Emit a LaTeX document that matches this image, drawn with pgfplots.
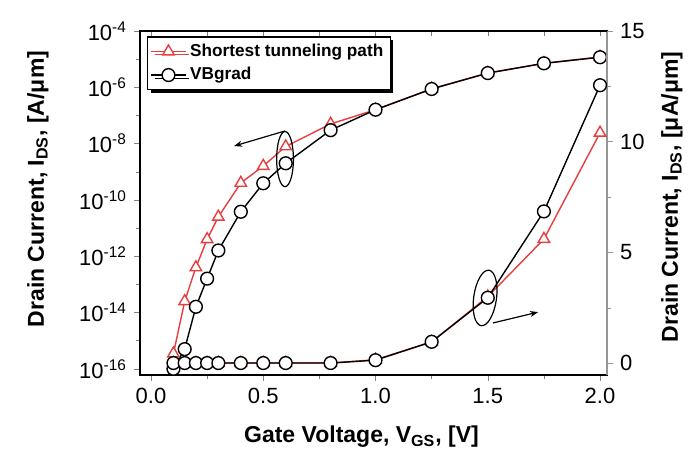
\documentclass[border=0pt]{standalone}
\usepackage{fontspec}
\setmainfont{Liberation Sans}
\usepackage{pgfplots}
\pgfplotsset{compat=1.18}
\usetikzlibrary{arrows.meta,shadows}
\definecolor{myred}{RGB}{228,62,62}
\definecolor{spinegray}{RGB}{150,150,150}
\begin{document}
\begin{tikzpicture}
\pgfplotsset{
  every axis/.append style={
    scale only axis, width=233.5pt, height=172pt,
    xmin=-0.049, xmax=2.031,
    tick label style={font=\fontsize{11}{13}\selectfont},
    label style={font=\fontsize{11.5}{13}\selectfont\bfseries},
    major tick length=3pt, minor tick length=2pt,
  },
  redser/.style={myred, line width=0.7pt, mark=triangle*, mark size=3.3pt, mark options={fill=white, draw=myred, solid}},
  blkser/.style={black, line width=0.7pt, mark=*, mark size=3.2pt, mark options={fill=white, draw=black, solid}},
}
\begin{axis}[
  ymode=log, ymin=6.03e-17, ymax=1e-4,
  axis line style={line width=0.9pt},
  xtick={0,0.5,1,1.5,2}, xticklabels={0.0,0.5,1.0,1.5,2.0},
  minor xtick={0.25,0.75,1.25,1.75},
  ytick={1e-16,1e-14,1e-12,1e-10,1e-8,1e-6,1e-4},
  yticklabels={10\textsuperscript{-16},10\textsuperscript{-14},10\textsuperscript{-12},10\textsuperscript{-10},10\textsuperscript{-8},10\textsuperscript{-6},10\textsuperscript{-4}},
  minor ytick={1e-15,1e-13,1e-11,1e-9,1e-7,1e-5},
  xtick pos=bottom, ytick pos=left, tick align=outside,
  xlabel={Gate Voltage, V\textsubscript{GS}, [V]},
  ylabel={Drain Current, I\textsubscript{DS}, [A/μm]},
  xlabel style={at={(rel axis cs:0.5,0)}, anchor=center, yshift=-31pt, xshift=-6pt},
  ylabel style={at={(rel axis cs:0,0.5)}, anchor=center, yshift=51pt, xshift=7pt},
  legend style={at={(0.015,0.985)}, anchor=north west, draw=black, fill=white,
    font=\fontsize{8.6}{11}\selectfont\bfseries, row sep=0pt, inner sep=1.5pt,
    drop shadow={fill=black, opacity=1, shadow xshift=1.6pt, shadow yshift=-1.6pt},
    line width=0.7pt},
  legend cell align=left,
]
\addplot[redser] coordinates {
(0.1,3.5e-16) (0.15,2.5e-14) (0.2,4.0e-13) (0.25,4.0e-12) (0.3,2.5e-11)
(0.4,4.0e-10) (0.5,1.6e-9) (0.6,7.9e-9) (0.8,5.0e-8) (1.0,1.6e-7)
(1.25,8.9e-7) (1.5,3.2e-6) (1.75,7.1e-6) (2.0,1.2e-5)};
\addlegendentry{Shortest tunneling path}
\addplot[blkser] coordinates {
(0.1,1.0e-16) (0.15,5.0e-16) (0.2,1.6e-14) (0.25,1.6e-13) (0.3,1.6e-12)
(0.4,3.8e-11) (0.5,3.9e-10) (0.6,2.0e-9) (0.8,3.0e-8) (1.0,1.6e-7)
(1.25,8.7e-7) (1.5,3.2e-6) (1.75,7.1e-6) (2.0,1.17e-5)};
\addlegendentry{VBgrad}
\draw[line width=0.6pt] (axis cs:0.597,2.82e-9) ellipse [x radius=4.2pt, y radius=13.8pt];
\draw[line width=0.6pt, -{Stealth[length=4pt,width=3pt]}] (axis cs:0.597,2.82e-8) -- (axis cs:0.37,8.2e-9);
\end{axis}
\path (current axis.south west) ++(-70pt,-39pt) rectangle ++(345.5pt,226.5pt);
\begin{axis}[
  ymin=-0.54, ymax=15,
  axis x line=none, axis y line*=right,
  y axis line style={spinegray, line width=1.2pt},
  ytick={0,5,10,15}, yticklabels={0,5,10,15},
  minor ytick={2.5,7.5,12.5},
  ytick style={spinegray}, tick align=outside,
  ylabel={Drain Current, I\textsubscript{DS}, [μA/μm]},
  ylabel style={at={(rel axis cs:1,0.5)}, anchor=center, yshift=-32.5pt, xshift=3pt},
]
\addplot[redser] coordinates {
(0.1,0) (0.15,0) (0.2,0) (0.25,0) (0.3,0) (0.4,0) (0.5,0) (0.6,0) (0.8,0)
(1.0,0.15) (1.25,0.95) (1.5,3.0) (1.75,5.6) (2.0,10.4)};
\addplot[blkser] coordinates {
(0.1,0) (0.15,0) (0.2,0) (0.25,0) (0.3,0) (0.4,0) (0.5,0) (0.6,0) (0.8,0)
(1.0,0.13) (1.25,0.96) (1.5,2.95) (1.75,6.85) (2.0,12.55)};
\draw[line width=0.6pt, rotate around={-8:(axis cs:1.488,2.94)}] (axis cs:1.488,2.94) ellipse [x radius=5.7pt, y radius=14pt];
\draw[line width=0.6pt, -{Stealth[length=4pt,width=3pt]}] (axis cs:1.523,1.81) -- (axis cs:1.724,2.30);
\end{axis}
\begin{axis}[
  ymin=0, ymax=1,
  axis x line*=top, axis y line=none,
  axis line style={line width=0.9pt},
  xtick={0,0.25,...,2}, xticklabels={},
  tick align=inside, major tick length=2.5pt,
]
\end{axis}
\end{tikzpicture}
\end{document}
